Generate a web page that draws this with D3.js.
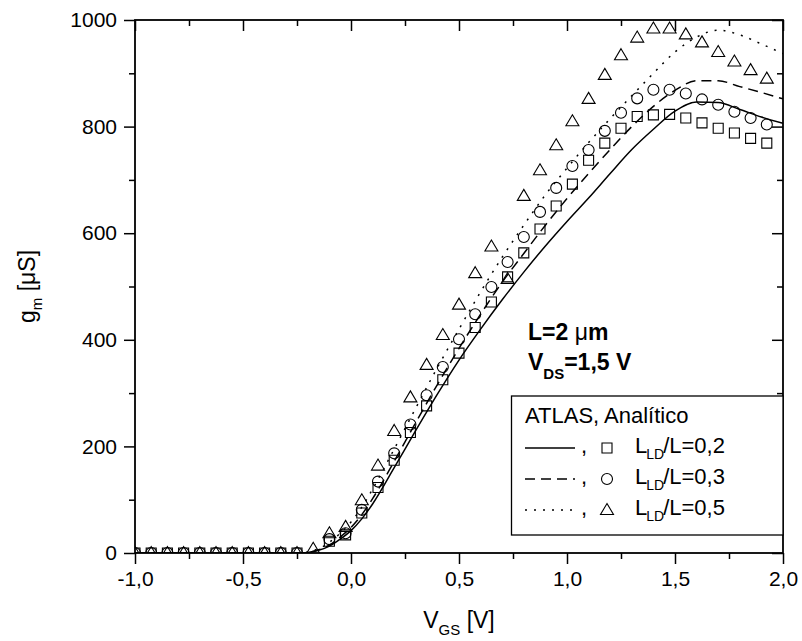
<!DOCTYPE html>
<html>
<head>
<meta charset="utf-8">
<script src="https://cdn.jsdelivr.net/npm/d3@7"></script>
<style>
  body { margin: 0; background: #fff; }
  text { font-family: "Liberation Sans", Arial, sans-serif; fill: #000; }
</style>
</head>
<body>
<svg id="chart" width="802" height="641"></svg>
<script>
// V_GS of the analytic points (markers)
const xMarks = [-1.0, -0.925, -0.85, -0.775, -0.7, -0.625, -0.55, -0.475, -0.4, -0.325,
  -0.25, -0.175, -0.1, -0.025, 0.05, 0.125, 0.2, 0.275, 0.35, 0.425,
  0.5, 0.575, 0.65, 0.725, 0.8, 0.875, 0.95, 1.025, 1.1, 1.175,
  1.25, 1.325, 1.4, 1.475, 1.55, 1.625, 1.7, 1.775, 1.85, 1.925];

// gm [uS], analytic model
const gmSquare = [0, 0, 0, 0, 0, 0, 0, 0, 0, 0,
  0, null, 22, 34, 75, 123, 174, 226, 276, 325,
  375, 423, 471, 518, 563, 608, 651, 692, 737, 769,
  797, 819, 822, 823, 816, 807, 797, 788, 778, 769];
const gmCircle = [0, 0, 0, 0, 0, 0, 0, 0, 0, 0,
  0, null, 26, 37, 81, 134, 187, 241, 296, 349,
  401, 448, 499, 546, 593, 640, 685, 726, 756, 792,
  826, 853, 869, 869, 862, 851, 841, 828, 816, 804];
const gmTriangle = [0, 0, 0, 0, 0, 0, 0, 0, 0, 0,
  0, 8, 37, 49, 99, 164, 229, 292, 353, 409,
  466, 525, 575, 514, 670, 718, 765, 810, 852, 897,
  934, 967, 984, 984, 973, 958, 940, 922, 906, 890];

// ATLAS simulation curves
const xLines = [-1.0, -0.25, -0.2, -0.15, -0.1, -0.05, 0, 0.05, 0.1, 0.2,
  0.3, 0.4, 0.5, 0.6, 0.7, 0.8, 0.9, 1.0, 1.1, 1.2,
  1.3, 1.4, 1.5, 1.6, 1.7, 1.8, 1.9, 2.0];
const gmSolid = [0, 0, 1, 5, 13, 26, 42, 64, 92, 160,
  230, 298, 362, 420, 475, 527, 576, 622, 666, 712,
  757, 795, 829, 846, 845, 832, 818, 806];
const gmDashed = [0, 0, 1, 6, 15, 30, 48, 72, 102, 172,
  245, 316, 384, 448, 508, 562, 615, 665, 712, 757,
  800, 838, 868, 886, 886, 875, 864, 852];
const gmDotted = [0, 0, 2, 8, 20, 37, 58, 86, 120, 195,
  272, 348, 420, 490, 555, 615, 672, 722, 770, 815,
  858, 900, 940, 968, 981, 972, 955, 937];

const xMajor = [-1.0, -0.5, 0.0, 0.5, 1.0, 1.5, 2.0];
const xMinor = [-0.75, -0.25, 0.25, 0.75, 1.25, 1.75];
const yMajor = [0, 200, 400, 600, 800, 1000];
const yMinor = [100, 300, 500, 700, 900];

const legendRows = ["0,2", "0,3", "0,5"];

const svg = d3.select("#chart");
const pLeft = 135, pRight = 783, pTop = 20, pBottom = 553;

const x = d3.scaleLinear().domain([-1, 2]).range([pLeft, pRight]);
const y = d3.scaleLinear().domain([0, 1000]).range([pBottom, pTop]);

const fmtX = d => d.toFixed(1).replace(".", ",");

// axes: bottom/left ticks outside, top/right ticks inside
function addAxis(axis, tf, values, size, labels) {
  const g = svg.append("g").attr("transform", tf)
    .call(axis.tickValues(values).tickSize(size).tickPadding(7)
      .tickFormat(labels ? labels : ""));
  g.select(".domain").remove();
  g.selectAll("line").attr("stroke", "#000").attr("stroke-width", 1.5);
  g.selectAll("text").attr("font-size", 21).attr("font-family", "Liberation Sans, Arial");
  return g;
}
addAxis(d3.axisBottom(x), `translate(0,${pBottom})`, xMajor, 11, fmtX);
addAxis(d3.axisBottom(x), `translate(0,${pBottom})`, xMinor, 6, null);
addAxis(d3.axisTop(x), `translate(0,${pTop})`, xMajor, -11, null);
addAxis(d3.axisTop(x), `translate(0,${pTop})`, xMinor, -6, null);
addAxis(d3.axisLeft(y), `translate(${pLeft},0)`, yMajor, 11, d => d);
addAxis(d3.axisLeft(y), `translate(${pLeft},0)`, yMinor, 6, null);
addAxis(d3.axisRight(y), `translate(${pRight},0)`, yMajor, -11, null);
addAxis(d3.axisRight(y), `translate(${pRight},0)`, yMinor, -6, null);

// clip data to the frame
svg.append("clipPath").attr("id", "plotclip")
  .append("rect").attr("x", pLeft).attr("y", pTop)
  .attr("width", pRight - pLeft).attr("height", pBottom - pTop);
const plot = svg.append("g").attr("clip-path", "url(#plotclip)");

const line = d3.line()
  .defined(d => d[1] != null)
  .x(d => x(d[0])).y(d => y(d[1]))
  .curve(d3.curveMonotoneX);

const curves = [
  { values: gmSolid, dash: null },
  { values: gmDashed, dash: "10,6" },
  { values: gmDotted, dash: "2,7" }
];
curves.forEach(c => {
  plot.append("path")
    .datum(xLines.map((v, i) => [v, c.values[i]]))
    .attr("d", line)
    .attr("fill", "none")
    .attr("stroke", "#000")
    .attr("stroke-width", 1.5)
    .attr("stroke-dasharray", c.dash);
});

// marker shapes
function markerPath(kind) {
  if (kind === "square") return "M-5,-5H5V5H-5Z";
  if (kind === "circle") return "M5.5,0A5.5,5.5 0 1,1 -5.5,0A5.5,5.5 0 1,1 5.5,0Z";
  return "M0,-6.5L6.5,4.5H-6.5Z";
}

const markerSets = [
  { values: gmSquare, kind: "square" },
  { values: gmCircle, kind: "circle" },
  { values: gmTriangle, kind: "triangle" }
];
markerSets.forEach(s => {
  plot.selectAll(null)
    .data(xMarks.map((v, i) => [v, s.values[i]]).filter(d => d[1] != null))
    .enter()
    .append("path")
    .attr("d", markerPath(s.kind))
    .attr("transform", d => `translate(${x(d[0])},${y(d[1])})`)
    .attr("fill", "none")
    .attr("stroke", "#000")
    .attr("stroke-width", 1.1);
});

// frame
svg.append("rect")
  .attr("x", pLeft).attr("y", pTop)
  .attr("width", pRight - pLeft).attr("height", pBottom - pTop)
  .attr("fill", "none").attr("stroke", "#000").attr("stroke-width", 1.8);

// axis titles
const xt = svg.append("text").attr("x", (pLeft + pRight) / 2).attr("y", 628)
  .attr("text-anchor", "middle").attr("font-size", 23);
xt.append("tspan").text("V");
xt.append("tspan").attr("font-size", 15).attr("dy", 7).text("GS");
xt.append("tspan").attr("dy", -7).text(" [V]");

const yt = svg.append("text")
  .attr("transform", `translate(35,${(pTop + pBottom) / 2}) rotate(-90)`)
  .attr("text-anchor", "middle").attr("font-size", 23);
yt.append("tspan").text("g");
yt.append("tspan").attr("font-size", 15).attr("dy", 7).text("m");
yt.append("tspan").attr("dy", -7).text(" [μS]");

// annotation
const a1 = svg.append("text").attr("x", 528).attr("y", 340)
  .attr("font-size", 23).attr("font-weight", "bold");
a1.append("tspan").text("L=2 ");
a1.append("tspan").attr("font-weight", "normal").text("μ");
a1.append("tspan").text("m");

const a2 = svg.append("text").attr("x", 528).attr("y", 370)
  .attr("font-size", 23).attr("font-weight", "bold");
a2.append("tspan").text("V");
a2.append("tspan").attr("font-size", 15).attr("dy", 9).text("DS");
a2.append("tspan").attr("dy", -9).text("=1,5 V");

// legend
const lg = svg.append("g");
lg.append("rect").attr("x", 511.5).attr("y", 396)
  .attr("width", pRight - 511.5).attr("height", 139)
  .attr("fill", "#fff").attr("stroke", "#000").attr("stroke-width", 1.3);
lg.append("text").attr("x", 525).attr("y", 423).attr("font-size", 22)
  .text("ATLAS, Analítico");

legendRows.forEach((lab, i) => {
  const base = 453 + i * 31;
  const ly = base - 5;
  lg.append("line").attr("x1", 525).attr("x2", 575).attr("y1", ly).attr("y2", ly)
    .attr("stroke", "#000").attr("stroke-width", 1.3)
    .attr("stroke-dasharray", curves[i].dash);
  lg.append("text").attr("x", 581).attr("y", base).attr("font-size", 22).text(",");
  lg.append("path").attr("d", markerPath(markerSets[i].kind))
    .attr("transform", `translate(607,${ly})`)
    .attr("fill", "none").attr("stroke", "#000").attr("stroke-width", 1.1);
  const t = lg.append("text").attr("x", 635).attr("y", base).attr("font-size", 22);
  t.append("tspan").text("L");
  t.append("tspan").attr("font-size", 14).attr("dy", 6).attr("dx", -1).text("LD");
  t.append("tspan").attr("dy", -6).attr("dx", -1).text("/L=" + lab);
});
</script>
</body>
</html>
